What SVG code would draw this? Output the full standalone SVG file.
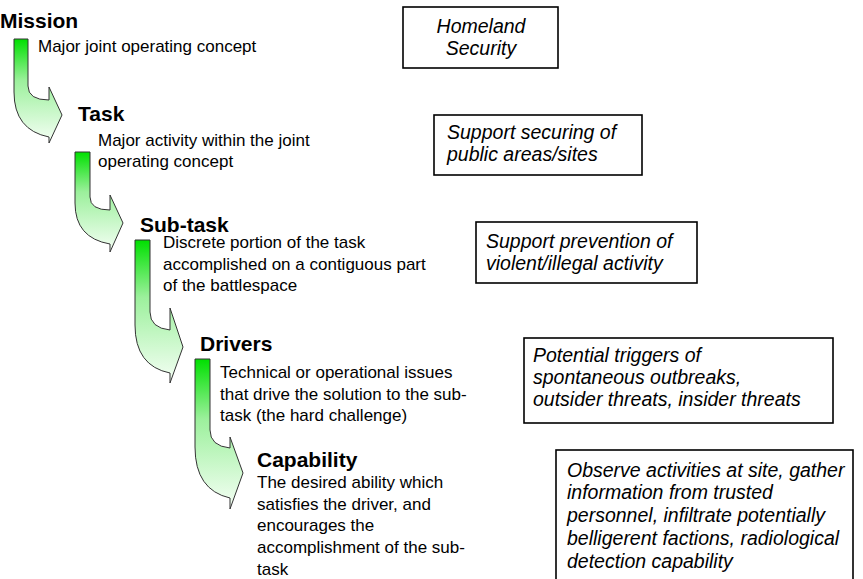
<svg xmlns="http://www.w3.org/2000/svg" width="863" height="579" viewBox="0 0 863 579">
<defs>
<linearGradient id="g" x1="0" y1="0" x2="0" y2="1">
<stop offset="0" stop-color="#00e000"/>
<stop offset="0.4" stop-color="#9cf09c"/>
<stop offset="1" stop-color="#f6fff6"/>
</linearGradient>
</defs>
<style>
.h{font-family:"Liberation Sans",Arial,sans-serif;font-weight:bold;font-size:21px;fill:#000}
.t{font-family:"Liberation Sans",Arial,sans-serif;font-size:17px;fill:#000}
.b{font-family:"Liberation Sans",Arial,sans-serif;font-style:italic;font-size:19.5px;fill:#000}
.box{fill:#fff;stroke:#000;stroke-width:1.6}
.arr{fill:url(#g);stroke:#333;stroke-width:1}
</style>
<rect width="863" height="579" fill="#fff"/>
<g id="connectors">
<path class="arr" d="M14,39 L28,39 L28,86 Q28,100 49,100 L49,87 L62,115 L49,143 L49,137 Q14,130 14,92 Z"/>
<path class="arr" d="M75,152 L90,152 L90,197 Q90,210 110,210 L110,195 L123,223 L110,252 L110,244 Q75,238 75,203 Z"/>
<path class="arr" d="M135,240 L150,240 L150,312 Q150,328 170,330 L170,308 L183,347 L170,383 L170,373 Q135,366 135,325 Z"/>
<path class="arr" d="M195,359 L210,359 L210,430 Q210,446 230,448 L230,437 L243,473 L230,509 L230,498 Q195,490 195,447 Z"/>
</g>
<g id="mission">
<text class="h" x="0" y="28">Mission</text>
<text class="t" x="38" y="52">Major joint operating concept</text>
</g>
<g id="task">
<text class="h" x="78" y="121">Task</text>
<text class="t" x="98" y="146">Major activity within the joint</text>
<text class="t" x="98" y="167">operating concept</text>
</g>
<g id="subtask">
<text class="h" x="140" y="232">Sub-task</text>
<text class="t" x="163" y="248">Discrete portion of the task</text>
<text class="t" x="163" y="270">accomplished on a contiguous part</text>
<text class="t" x="163" y="291">of the battlespace</text>
</g>
<g id="drivers">
<text class="h" x="200" y="351">Drivers</text>
<text class="t" x="220" y="378">Technical or operational issues</text>
<text class="t" x="220" y="400">that drive the solution to the sub-</text>
<text class="t" x="220" y="421">task (the hard challenge)</text>
</g>
<g id="capability">
<text class="h" x="257" y="467">Capability</text>
<text class="t" x="257" y="488">The desired ability which</text>
<text class="t" x="257" y="510">satisfies the driver, and</text>
<text class="t" x="257" y="531">encourages the</text>
<text class="t" x="257" y="553">accomplishment of the sub-</text>
<text class="t" x="257" y="575">task</text>
</g>
<g id="box-homeland">
<rect class="box" x="403" y="7" width="155" height="61"/>
<text class="b" x="481" y="33" text-anchor="middle">Homeland</text>
<text class="b" x="481" y="55" text-anchor="middle">Security</text>
</g>
<g id="box-securing">
<rect class="box" x="434" y="115" width="208" height="60"/>
<text class="b" x="447" y="139">Support securing of</text>
<text class="b" x="447" y="161">public areas/sites</text>
</g>
<g id="box-prevention">
<rect class="box" x="476" y="222" width="221" height="61"/>
<text class="b" x="486" y="248">Support prevention of</text>
<text class="b" x="486" y="270">violent/illegal activity</text>
</g>
<g id="box-triggers">
<rect class="box" x="524" y="338" width="309" height="85"/>
<text class="b" x="533" y="362">Potential triggers of</text>
<text class="b" x="533" y="384">spontaneous outbreaks,</text>
<text class="b" x="533" y="406">outsider threats, insider threats</text>
</g>
<g id="box-observe">
<rect class="box" x="556" y="450" width="297" height="140"/>
<text class="b" x="567" y="477">Observe activities at site, gather</text>
<text class="b" x="567" y="499">information from trusted</text>
<text class="b" x="567" y="522">personnel, infiltrate potentially</text>
<text class="b" x="567" y="545">belligerent factions, radiological</text>
<text class="b" x="567" y="568">detection capability</text>
</g>
</svg>
